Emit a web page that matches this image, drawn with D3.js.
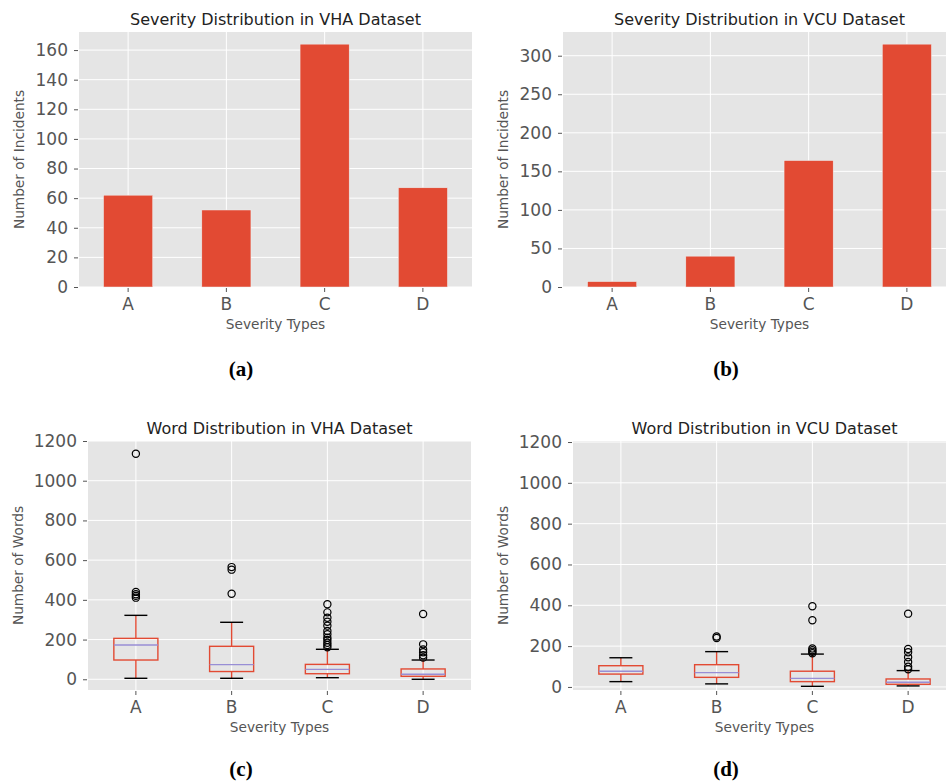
<!DOCTYPE html>
<html>
<head>
<meta charset="utf-8">
<script src="https://cdn.jsdelivr.net/npm/d3@7"></script>
<style>
  body { margin: 0; background: #fff; }
  svg { display: block; font-family: "DejaVu Sans", sans-serif; }
  .caption { font-family: "Liberation Serif", "DejaVu Serif", serif; font-weight: bold; }
</style>
</head>
<body>
<svg id="chart" width="946" height="783"></svg>
<script>
// --- Data ---
const categories = ['A', 'B', 'C', 'D'];

// bar counts per severity type
const vhaCounts = [62, 52, 164, 67];
const vcuCounts = [7, 40, 164, 315];

const incidentTicks = { vha: [0, 20, 40, 60, 80, 100, 120, 140, 160], vcu: [0, 50, 100, 150, 200, 250, 300] };
const wordTicks = [0, 200, 400, 600, 800, 1000, 1200];

// box plot stats (words per report)
const vhaLow    = [5, 5, 8, 0];
const vhaQ1     = [97, 39, 28, 15];
const vhaMedian = [173, 74, 50, 25];
const vhaQ3     = [206, 166, 75, 52];
const vhaHigh   = [322, 287, 151, 97];
const vhaOutliers = [
    [411, 420, 428, 440, 1136],
    [431, 552, 565],
    [161, 173, 184, 198, 209, 227, 243, 270, 290, 310, 337, 378],
    [109, 121, 136, 150, 176, 329]
];

const vcuLow    = [26, 15, 3, 5];
const vcuQ1     = [63, 47, 26, 13];
const vcuMedian = [77, 70, 42, 23];
const vcuQ3     = [104, 109, 77, 39];
const vcuHigh   = [143, 173, 161, 80];
const vcuOutliers = [
    [],
    [240, 247],
    [165, 172, 180, 188, 327, 395],
    [87, 99, 122, 145, 170, 186, 359]
];

// --- Style ---
const bgColor = '#E5E5E5';
const barColor = '#E24A33';
const medianColor = '#988ED5';
const textGray = '#555555';

const svg = d3.select('#chart');

// --- Helpers ---
function drawFrame(g, box, y, x, ticks, title, ylabel, ylabelOffset) {
    g.append('rect')
        .attr('x', box.x0).attr('y', box.y0)
        .attr('width', box.x1 - box.x0).attr('height', box.y1 - box.y0)
        .attr('fill', bgColor);

    // grid
    g.selectAll('line.hgrid').data(ticks).join('line')
        .attr('class', 'hgrid')
        .attr('x1', box.x0).attr('x2', box.x1)
        .attr('y1', d => y(d)).attr('y2', d => y(d))
        .attr('stroke', '#fff').attr('stroke-width', 1);
    g.selectAll('line.vgrid').data(categories).join('line')
        .attr('class', 'vgrid')
        .attr('x1', d => x(d) + x.bandwidth() / 2).attr('x2', d => x(d) + x.bandwidth() / 2)
        .attr('y1', box.y0).attr('y2', box.y1)
        .attr('stroke', '#fff').attr('stroke-width', 1);

    // y axis
    const yAxis = g.append('g')
        .attr('transform', `translate(${box.x0 - 1},0)`)
        .call(d3.axisLeft(y).tickValues(ticks).tickFormat(d3.format('d')).tickSize(4).tickPadding(6));
    yAxis.select('.domain').remove();
    yAxis.selectAll('line').attr('stroke', textGray);
    yAxis.selectAll('text').attr('fill', textGray).attr('font-size', 17)
        .attr('font-family', '"DejaVu Sans", sans-serif');

    // x axis
    const xAxis = g.append('g')
        .attr('transform', `translate(0,${box.y1 + 1})`)
        .call(d3.axisBottom(x).tickSize(4).tickPadding(6));
    xAxis.select('.domain').remove();
    xAxis.selectAll('line').attr('stroke', textGray);
    xAxis.selectAll('text').attr('fill', textGray).attr('font-size', 17)
        .attr('font-family', '"DejaVu Sans", sans-serif');

    g.append('text')
        .attr('x', (box.x0 + box.x1) / 2).attr('y', box.y0 - 7)
        .attr('text-anchor', 'middle').attr('font-size', 16).attr('fill', '#222')
        .text(title);

    g.append('text')
        .attr('transform', `translate(${box.x0 - ylabelOffset},${(box.y0 + box.y1) / 2}) rotate(-90)`)
        .attr('text-anchor', 'middle').attr('font-size', 13.7).attr('fill', textGray)
        .text(ylabel);

    g.append('text')
        .attr('x', (box.x0 + box.x1) / 2).attr('y', box.y1 + 42)
        .attr('text-anchor', 'middle').attr('font-size', 13.7).attr('fill', textGray)
        .text('Severity Types');
}

function drawCaption(label, cx, cy) {
    svg.append('text').attr('class', 'caption')
        .attr('x', cx).attr('y', cy)
        .attr('text-anchor', 'middle').attr('font-size', 21).attr('fill', '#000')
        .text(label);
}

function barPanel(box, counts, ymax, ticks, title) {
    const g = svg.append('g');
    const x = d3.scaleBand().domain(categories).range([box.x0, box.x1]);
    const y = d3.scaleLinear().domain([0, ymax]).range([box.y1, box.y0]);
    drawFrame(g, box, y, x, ticks, title, 'Number of Incidents', 55);

    g.selectAll('rect.bar').data(categories).join('rect')
        .attr('class', 'bar')
        .attr('x', d => x(d) + x.bandwidth() * 0.25)
        .attr('width', x.bandwidth() * 0.5)
        .attr('y', (d, i) => y(counts[i]))
        .attr('height', (d, i) => y(0) - y(counts[i]))
        .attr('fill', barColor)
        .attr('stroke', '#EEEEEE').attr('stroke-width', 0.5);
}

function boxPanel(box, domain, stats, title) {
    const g = svg.append('g');
    const x = d3.scaleBand().domain(categories).range([box.x0, box.x1]);
    const y = d3.scaleLinear().domain(domain).range([box.y1, box.y0]);
    drawFrame(g, box, y, x, wordTicks, title, 'Number of Words', 65);

    const bw = x.bandwidth() * 0.46;
    const cw = x.bandwidth() * 0.24;
    categories.forEach((c, i) => {
        const cx = x(c) + x.bandwidth() / 2;
        const bg = g.append('g');
        // whiskers
        bg.append('line').attr('x1', cx).attr('x2', cx)
            .attr('y1', y(stats.q3[i])).attr('y2', y(stats.high[i]))
            .attr('stroke', barColor).attr('stroke-width', 1.4);
        bg.append('line').attr('x1', cx).attr('x2', cx)
            .attr('y1', y(stats.q1[i])).attr('y2', y(stats.low[i]))
            .attr('stroke', barColor).attr('stroke-width', 1.4);
        // caps
        [stats.high[i], stats.low[i]].forEach(v => {
            bg.append('line').attr('x1', cx - cw / 2).attr('x2', cx + cw / 2)
                .attr('y1', y(v)).attr('y2', y(v))
                .attr('stroke', '#000').attr('stroke-width', 1.4);
        });
        // box
        bg.append('rect')
            .attr('x', cx - bw / 2).attr('width', bw)
            .attr('y', y(stats.q3[i])).attr('height', y(stats.q1[i]) - y(stats.q3[i]))
            .attr('fill', 'none').attr('stroke', barColor).attr('stroke-width', 1.4);
        // median
        bg.append('line').attr('x1', cx - bw / 2).attr('x2', cx + bw / 2)
            .attr('y1', y(stats.median[i])).attr('y2', y(stats.median[i]))
            .attr('stroke', medianColor).attr('stroke-width', 1.4);
        // fliers
        bg.selectAll('circle').data(stats.outliers[i]).join('circle')
            .attr('cx', cx).attr('cy', d => y(d)).attr('r', 3.6)
            .attr('fill', 'none').attr('stroke', '#000').attr('stroke-width', 1.2);
    });
}

// --- Panels ---
barPanel({ x0: 79, x1: 472, y0: 32, y1: 287 }, vhaCounts, 172.2, incidentTicks.vha,
    'Severity Distribution in VHA Dataset');
barPanel({ x0: 563, x1: 956, y0: 32, y1: 287 }, vcuCounts, 330.75, incidentTicks.vcu,
    'Severity Distribution in VCU Dataset');

boxPanel({ x0: 88, x1: 471, y0: 441, y1: 690 }, [-54, 1200],
    { low: vhaLow, q1: vhaQ1, median: vhaMedian, q3: vhaQ3, high: vhaHigh, outliers: vhaOutliers },
    'Word Distribution in VHA Dataset');
boxPanel({ x0: 573, x1: 956, y0: 441, y1: 690 }, [-15, 1205],
    { low: vcuLow, q1: vcuQ1, median: vcuMedian, q3: vcuQ3, high: vcuHigh, outliers: vcuOutliers },
    'Word Distribution in VCU Dataset');

drawCaption('(a)', 241, 376);
drawCaption('(b)', 726, 376);
drawCaption('(c)', 241, 776);
drawCaption('(d)', 726, 776);
</script>
</body>
</html>
